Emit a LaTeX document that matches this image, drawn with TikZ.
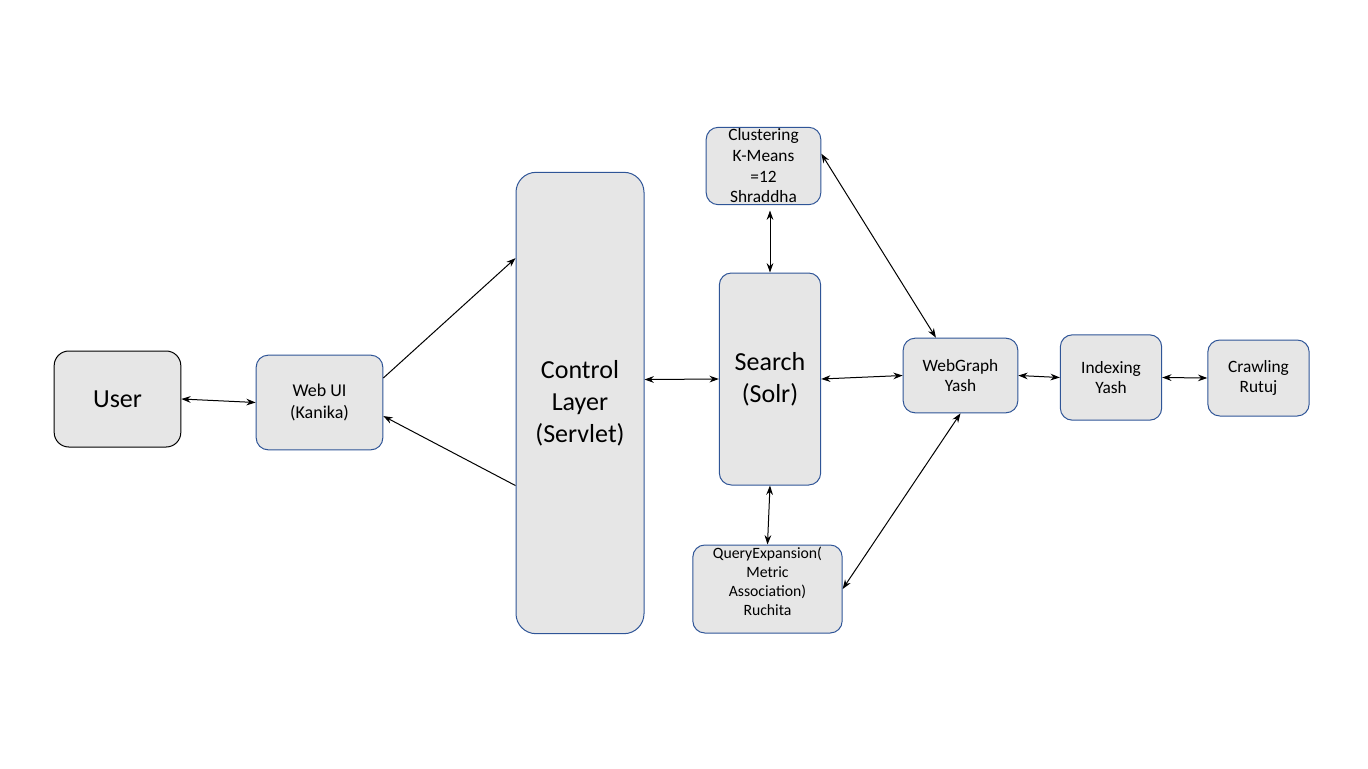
\documentclass[tikz,border=0pt]{standalone}
\usepackage{fontspec}
\setmainfont{Carlito}
\usetikzlibrary{arrows.meta}
\definecolor{boxfill}{RGB}{230,230,230}
\definecolor{boxline}{RGB}{47,85,151}

\begin{document}
\begin{tikzpicture}[x=0.75pt, y=-0.75pt]
    \tikzstyle{box} = [rectangle, rounded corners=9pt, draw=boxline, line width=0.75pt, fill=boxfill, align=center, inner sep=0pt, font=\fontsize{13}{15.5}\selectfont]
    \tikzstyle{bigbox} = [box, font=\fontsize{19.5}{24}\selectfont]
    \tikzstyle{link} = [line width=0.75pt, {Stealth[length=7pt,width=5pt]}-{Stealth[length=7pt,width=5pt]}]
    \tikzstyle{oneway} = [line width=0.75pt, -{Stealth[length=7pt,width=5pt]}]

    \useasboundingbox (0,0) rectangle (1368,768);

    % User side
    \node [bigbox, draw=black, minimum width=95pt, minimum height=72pt, rounded corners=11pt] (user) at (117.5,399) {User};
    \node [box, minimum width=95pt, minimum height=71pt, font=\fontsize{13.5}{17}\selectfont] (webui) at (319.5,402.5) {Web UI\\(Kanika)};

    % Control layer
    \node [bigbox, minimum width=96pt, minimum height=346pt, rounded corners=15pt] (control) at (580,403) {Control\\Layer\\(Servlet)};

    % Search and its helpers
    \node [box, minimum width=86pt, minimum height=58pt] (cluster) at (763.5,166) {Clustering\\K-Means\\=12\\Shraddha};
    \node [bigbox, minimum width=76pt, minimum height=159pt, rounded corners=9pt] (search) at (770,379) {Search\\(Solr)};
    \node [box, minimum width=112pt, minimum height=66pt, font=\fontsize{11.8}{14.3}\selectfont] (query) at (767.5,589) {QueryExpansion(\\Metric\\Association)\\Ruchita\\[-3pt]};

    % Back end
    \node [box, minimum width=86pt, minimum height=56pt] (webgraph) at (960.5,375.5) {WebGraph\\Yash};
    \node [box, minimum width=76pt, minimum height=64pt] (indexing) at (1111,377.5) {Indexing\\Yash};
    \node [box, minimum width=76pt, minimum height=57pt] (crawling) at (1258.5,378) {Crawling\\Rutuj};

    \draw [link] (user.east) -- (webui.west);
    \draw [oneway] (webui.21) -- (control.114);
    \draw [oneway] (control.232) -- (webui.-12);
    \draw [link] (control.20.6) -- (search.west);
    \draw [link] ([yshift=-4pt]search.north |- cluster.south) -- (search.north);
    \draw [link] (search.south) -- (query.north);
    \draw [link] (search.east) -- (webgraph.west);
    \draw [link] (cluster.12) -- (webgraph.123);
    \draw [link] (webgraph.south) -- (query.east);
    \draw [link] (webgraph.east) -- (indexing.west);
    \draw [link] (indexing.east) -- (crawling.west);
\end{tikzpicture}
\end{document}
